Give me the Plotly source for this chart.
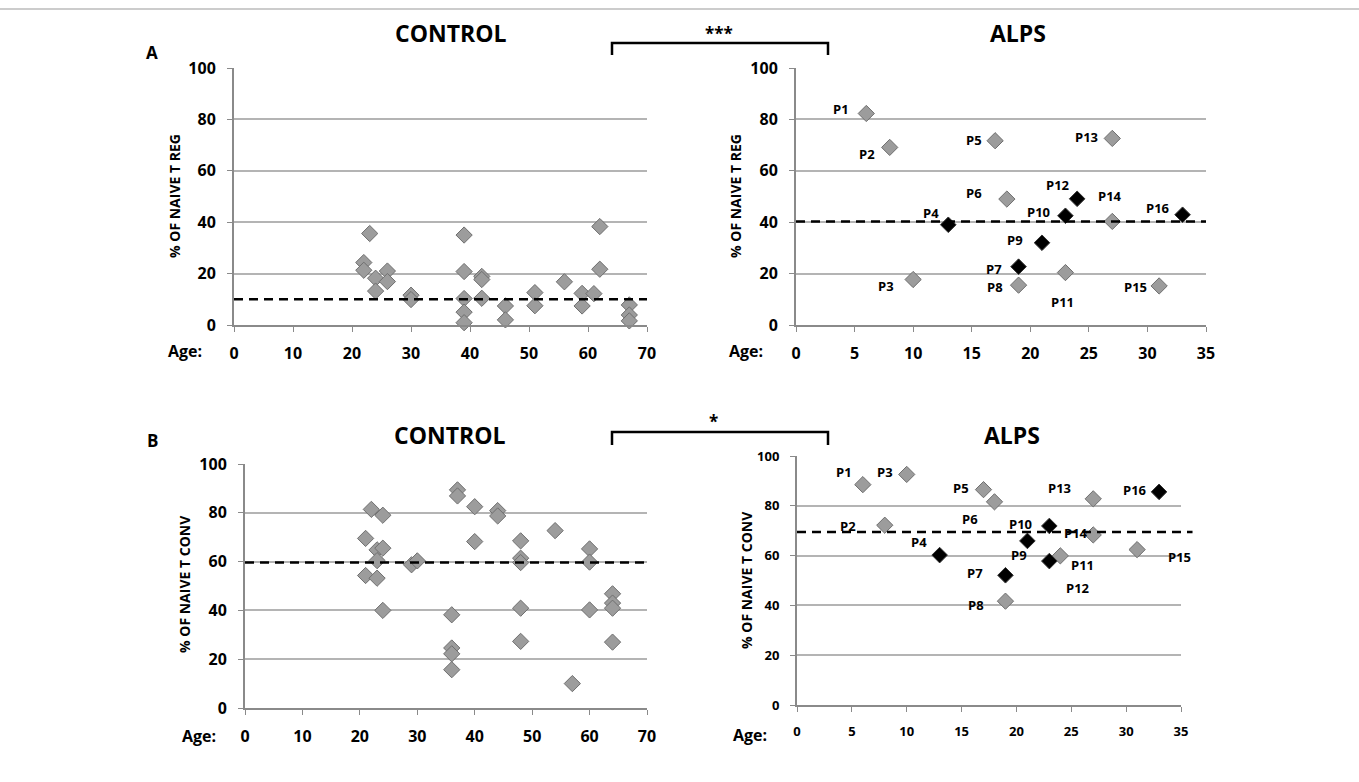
import plotly.graph_objects as go

W, H = 1359, 782
FONT = "Open Sans"

# ---------------- data ----------------
# Panel A : % of naive T reg
ctrl_treg_age = [23, 22, 22, 24, 24, 26, 26, 30, 30, 39, 39, 39, 39, 39, 42, 42, 42,
                 46, 46, 51, 51, 56, 59, 59, 61, 62, 62, 67, 67, 67]
ctrl_treg_pct = [35.6, 24.3, 21.3, 18.2, 13.2, 21.0, 16.9, 11.6, 9.9, 35.0, 20.8, 10.3, 5.0, 0.9,
                 18.9, 17.7, 10.4, 7.4, 2.0, 12.6, 7.5, 16.8, 12.3, 7.4, 12.2, 38.3, 21.7,
                 7.8, 3.9, 1.6]

alps_ids = ["P1", "P2", "P3", "P4", "P5", "P6", "P7", "P8", "P9", "P10", "P11", "P12",
            "P13", "P14", "P15", "P16"]
alps_black = [False, False, False, True, False, False, True, False, True, True, False, True,
              False, False, False, True]

alps_treg_age = [6, 8, 10, 13, 17, 18, 19, 19, 21, 23, 23, 24, 27, 27, 31, 33]
alps_treg_pct = [82.3, 69.1, 17.7, 39.0, 71.7, 49.0, 22.7, 15.5, 32.0, 42.5, 20.4, 49.1,
                 72.6, 40.3, 15.2, 42.9]

# Panel B : % of naive T conv
ctrl_tconv_age = [22, 24, 21, 23, 24, 23, 21, 23, 24, 29, 30, 37, 37, 36, 36, 36, 36,
                  40, 40, 44, 44, 48, 48, 48, 48, 48, 54, 57, 60, 60, 60, 64, 64, 64, 64]
ctrl_tconv_pct = [81.4, 79.0, 69.5, 64.8, 65.5, 60.4, 54.3, 53.2, 40.0, 58.7, 60.3, 89.4, 86.9,
                  38.2, 24.6, 22.2, 15.7, 82.5, 68.2, 80.9, 78.7, 68.5, 61.4, 59.6, 40.9, 27.3,
                  72.7, 10.0, 65.2, 59.8, 40.2, 46.8, 43.0, 40.9, 27.0]

alps_tconv_age = [6, 8, 10, 13, 17, 18, 19, 19, 21, 23, 24, 23, 27, 27, 31, 33]
alps_tconv_pct = [88.5, 72.2, 92.6, 60.2, 86.5, 81.6, 52.1, 41.7, 65.9, 71.9, 59.9, 57.8,
                  82.8, 68.3, 62.4, 85.6]

# group means (dashed lines)
mean_ctrl_treg, mean_alps_treg = 10.0, 40.3
mean_ctrl_tconv, mean_alps_tconv = 59.6, 69.5

# label offsets (px) for patient labels
treg_lbl_dx = [-25, -23, -27, -17, -21, -33, -25, -24, -27, -27, -3, -19, -26, -2, -24, -25]
treg_lbl_dy = [-4, 7, 6, -12, -1, -6, 2, 2, -3, -4, 29, -14, -1, -25, 1, -7]
tconv_lbl_dx = [-19, -37, -22, -21, -23, -24, -30, -29, -8, -29, 22, 29, -34, -17, 42, -24]
tconv_lbl_dy = [-13, 1, -2, -13, -2, 17, -2, 4, 14, -2, 9, 27, -11, -2, 7, -2]

# ---------------- figure ----------------
GRAY_FILL = "#9c9c9c"
GRAY_LINE = "#6f6f6f"


def px(x, y):
    return x / W, 1 - y / H


fig = go.Figure()


def add_ctrl(ages, vals, xa, ya):
    fig.add_trace(go.Scatter(
        x=ages, y=vals, mode="markers", xaxis=xa, yaxis=ya, cliponaxis=False,
        marker=dict(symbol="diamond", size=12.5, color=GRAY_FILL,
                    line=dict(color=GRAY_LINE, width=1)),
        showlegend=False, hoverinfo="x+y"))


def add_alps(ages, vals, xa, ya):
    g_x = [a for a, b in zip(ages, alps_black) if not b]
    g_y = [v for v, b in zip(vals, alps_black) if not b]
    k_x = [a for a, b in zip(ages, alps_black) if b]
    k_y = [v for v, b in zip(vals, alps_black) if b]
    fig.add_trace(go.Scatter(
        x=g_x, y=g_y, mode="markers", xaxis=xa, yaxis=ya, cliponaxis=False,
        marker=dict(symbol="diamond", size=12.5, color=GRAY_FILL,
                    line=dict(color=GRAY_LINE, width=1)),
        showlegend=False))
    fig.add_trace(go.Scatter(
        x=k_x, y=k_y, mode="markers", xaxis=xa, yaxis=ya, cliponaxis=False,
        marker=dict(symbol="diamond", size=12, color="#000000",
                    line=dict(color="#333333", width=1)),
        showlegend=False))


add_ctrl(ctrl_treg_age, ctrl_treg_pct, "x", "y")
add_alps(alps_treg_age, alps_treg_pct, "x2", "y2")
add_ctrl(ctrl_tconv_age, ctrl_tconv_pct, "x3", "y3")
add_alps(alps_tconv_age, alps_tconv_pct, "x4", "y4")

# panel geometry (pixels)
panels = {
    1: dict(x0=234, x1=647, y0=68, y1=325, xmax=70, dx=10, fs=16),
    2: dict(x0=796, x1=1206, y0=68, y1=325, xmax=35, dx=5, fs=16),
    3: dict(x0=245, x1=647, y0=464, y1=708, xmax=70, dx=10, fs=16),
    4: dict(x0=797, x1=1181, y0=456, y1=705, xmax=35, dx=5, fs=13),
}

layout = dict(width=W, height=H, margin=dict(l=0, r=0, t=0, b=0),
              paper_bgcolor="white", plot_bgcolor="white",
              font=dict(family=FONT, color="black"), showlegend=False)

for i, p in panels.items():
    sx = "" if i == 1 else str(i)
    layout["xaxis" + sx] = dict(
        domain=[p["x0"] / W, p["x1"] / W], anchor="y" + sx, range=[0, p["xmax"]],
        dtick=p["dx"], tick0=0, showgrid=False, zeroline=False, showline=True,
        linecolor="#8a8a8a", linewidth=2, ticks="outside", ticklen=5, tickcolor="#8a8a8a",
        tickwidth=1, ticklabelstandoff=8, automargin=False,
        tickfont=dict(family=FONT, size=p["fs"], weight="bold", color="black"))
    layout["yaxis" + sx] = dict(
        domain=[1 - p["y1"] / H, 1 - p["y0"] / H], anchor="x" + sx, range=[0, 100],
        dtick=20, tick0=0, showgrid=True, gridcolor="#b4b4b4", gridwidth=1.5,
        zeroline=False, showline=True, linecolor="#8a8a8a", linewidth=2,
        ticks="outside", ticklen=5, tickcolor="#8a8a8a", tickwidth=1, ticklabelstandoff=8,
        automargin=False,
        tickfont=dict(family=FONT, size=p["fs"], weight="bold", color="black"))

annotations = []
shapes = []


def text(x, y, s, size, xanchor="center", angle=0):
    xx, yy = px(x, y)
    annotations.append(dict(x=xx, y=yy, xref="paper", yref="paper", text=s,
                            showarrow=False, xanchor=xanchor, yanchor="middle",
                            textangle=angle,
                            font=dict(family=FONT, size=size, color="black",
                                      weight="bold")))


text(152, 52, "A", 17)
text(152, 440, "B", 17)
text(450, 33, "CONTROL", 23)
text(1018, 33, "ALPS", 23)
text(449, 435, "CONTROL", 23)
text(1012, 435, "ALPS", 23)
text(719, 33, "***", 17)
text(713, 422, "*", 17)
text(174, 196, "% OF NAIVE T REG", 14, angle=-90)
text(735, 196, "% OF NAIVE T REG", 14, angle=-90)
text(184, 584, "% OF NAIVE T CONV", 14, angle=-90)
text(746, 580, "% OF NAIVE T CONV", 14, angle=-90)
text(204, 351, "Age:", 16, xanchor="right")
text(765, 351, "Age:", 16, xanchor="right")
text(218, 736, "Age:", 16, xanchor="right")
text(769, 735, "Age:", 16, xanchor="right")

# patient labels
for ages, vals, dxs, dys, ax in [(alps_treg_age, alps_treg_pct, treg_lbl_dx, treg_lbl_dy, "2"),
                                 (alps_tconv_age, alps_tconv_pct, tconv_lbl_dx, tconv_lbl_dy, "4")]:
    for a, v, lab, dx, dy in zip(ages, vals, alps_ids, dxs, dys):
        annotations.append(dict(x=a, y=v, xref="x" + ax, yref="y" + ax, text=lab,
                                showarrow=False, xshift=dx, yshift=-dy,
                                font=dict(family=FONT, size=13, color="black",
                                          weight="bold")))

# dashed mean lines
for ax, m, x1 in [("", mean_ctrl_treg, 1.0), ("2", mean_alps_treg, 1.0),
                  ("3", mean_ctrl_tconv, 1.0), ("4", mean_alps_tconv, 1.03)]:
    shapes.append(dict(type="line", xref=("x" + ax) + " domain", yref="y" + ax,
                       x0=0, x1=x1, y0=m, y1=m,
                       line=dict(color="black", width=2.5, dash="9px,6px")))

# significance brackets
for ytop, ybot in [(43, 55), (432, 445)]:
    x0, yt = px(612, ytop)
    x1, yb = px(828, ybot)
    shapes.append(dict(type="path", xref="paper", yref="paper",
                       path=f"M {x0},{yb} L {x0},{yt} L {x1},{yt} L {x1},{yb}",
                       line=dict(color="black", width=2.5)))

# thin frame line at top
shapes.append(dict(type="line", xref="paper", yref="paper", x0=0, x1=1,
                   y0=1 - 9 / H, y1=1 - 9 / H, line=dict(color="#9a9a9a", width=1.2)))

layout["annotations"] = annotations
layout["shapes"] = shapes
fig.update_layout(**layout)
fig.write_html("out.html",
               config={"displayModeBar": False},
               post_script="document.body.style.margin='0';"
                           "document.body.style.overflow='hidden';")
